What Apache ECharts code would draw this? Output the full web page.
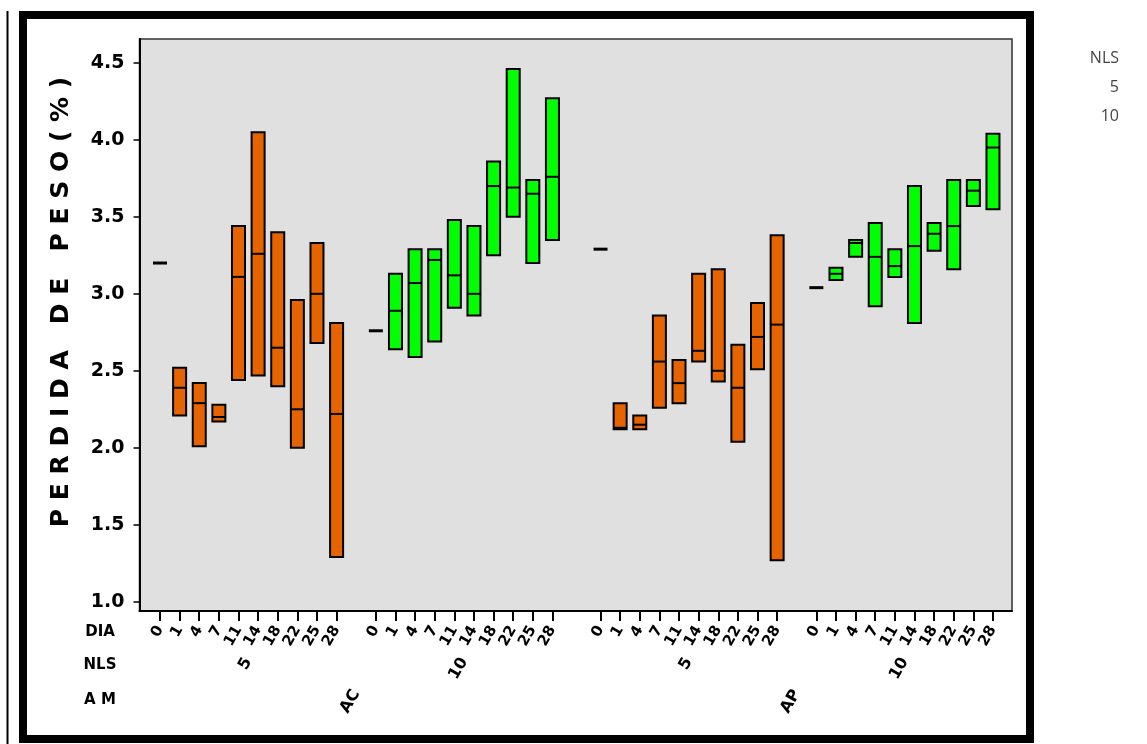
<!DOCTYPE html>
<html>
<head>
<meta charset="utf-8">
<script src="https://cdn.jsdelivr.net/npm/echarts@6/dist/echarts.min.js"></script>
<style>
html,body{margin:0;padding:0;background:#fff;}
#chart{width:1147px;height:744px;}
</style>
</head>
<body>
<div id="chart"></div>
<script>
// ---- data ----
const days = ['0','1','4','7','11','14','18','22','25','28'];
const nlsLevels = ['5','10'];
const amLevels = ['AC','AP'];
const yTicks = [1.0,1.5,2.0,2.5,3.0,3.5,4.0,4.5];
const yTitle = 'P E R D I D A   D E   P E S O ( % )';
const rowHeaders = ['DIA','NLS','A M'];

// AC, NLS 5
const acN5High = [3.20,2.52,2.42,2.28,3.44,4.05,3.40,2.96,3.33,2.81];
const acN5Mid  = [3.20,2.39,2.29,2.20,3.11,3.26,2.65,2.25,3.00,2.22];
const acN5Low  = [3.20,2.21,2.01,2.17,2.44,2.47,2.40,2.00,2.68,1.29];
// AC, NLS 10
const acN10High = [2.76,3.13,3.29,3.29,3.48,3.44,3.86,4.46,3.74,4.27];
const acN10Mid  = [2.76,2.89,3.07,3.22,3.12,3.00,3.70,3.69,3.65,3.76];
const acN10Low  = [2.76,2.64,2.59,2.69,2.91,2.86,3.25,3.50,3.20,3.35];
// AP, NLS 5
const apN5High = [3.29,2.29,2.21,2.86,2.57,3.13,3.16,2.67,2.94,3.38];
const apN5Mid  = [3.29,2.13,2.15,2.56,2.42,2.63,2.50,2.39,2.72,2.80];
const apN5Low  = [3.29,2.12,2.12,2.26,2.29,2.56,2.43,2.04,2.51,1.27];
// AP, NLS 10
const apN10High = [3.04,3.17,3.35,3.46,3.29,3.70,3.46,3.74,3.74,4.04];
const apN10Mid  = [3.04,3.13,3.33,3.24,3.18,3.31,3.39,3.44,3.67,3.95];
const apN10Low  = [3.04,3.09,3.24,2.92,3.11,2.81,3.28,3.16,3.57,3.55];

// ---- layout helpers ----
const AM_EXTRA_GAP = 0.45;
const groups = [
  {am:0, nls:0, hi:acN5High, mid:acN5Mid, lo:acN5Low},
  {am:0, nls:1, hi:acN10High, mid:acN10Mid, lo:acN10Low},
  {am:1, nls:0, hi:apN5High, mid:apN5Mid, lo:apN5Low},
  {am:1, nls:1, hi:apN10High, mid:apN10Mid, lo:apN10Low}
];
const nlsSpan = days.length + 1;
const amSpan = nlsLevels.length * nlsSpan + AM_EXTRA_GAP;
function pos(a, n, d){ return a*amSpan + n*nlsSpan + d; }

const dayPos = [], dayLabelMap = {};
const nlsPos = [], nlsLabelMap = {};
const amPos = [], amLabelMap = {};
const seriesData = [[], []];
groups.forEach(g => {
  days.forEach((lab, d) => {
    const p = pos(g.am, g.nls, d);
    dayPos.push(p); dayLabelMap[p.toFixed(3)] = lab;
    seriesData[g.nls].push([p, g.lo[d], g.mid[d], g.hi[d]]);
  });
  const c = (pos(g.am, g.nls, 0) + pos(g.am, g.nls, days.length-1))/2;
  nlsPos.push(c); nlsLabelMap[c.toFixed(3)] = nlsLevels[g.nls];
});
amLevels.forEach((lab, a) => {
  const c = (pos(a,0,0) + pos(a,nlsLevels.length-1,days.length-1))/2;
  amPos.push(c); amLabelMap[c.toFixed(3)] = lab;
});

const colors = ['#e66400', '#00ff00'];
const FONT = 'DejaVu Sans';

function makeRender(color){
  return function(params, api){
    const x = api.value(0), lo = api.value(1), mid = api.value(2), hi = api.value(3);
    const pHi = api.coord([x, hi]), pLo = api.coord([x, lo]), pMid = api.coord([x, mid]);
    const w = 13;
    if (hi === lo) {
      return {type:'line', shape:{x1:pMid[0]-7, y1:pMid[1], x2:pMid[0]+7, y2:pMid[1]},
              style:{stroke:'#000', lineWidth:3}};
    }
    return {type:'group', children:[
      {type:'rect', shape:{x:pHi[0]-w/2, y:pHi[1], width:w, height:pLo[1]-pHi[1]},
       style:{fill:color, stroke:'#000', lineWidth:2}},
      {type:'line', shape:{x1:pHi[0]-w/2, y1:pMid[1], x2:pHi[0]+w/2, y2:pMid[1]},
       style:{stroke:'#000', lineWidth:2}}
    ]};
  };
}

const XMIN = -1.045, XMAX = 43.42;
function fmt(map){ return v => map[Number(v).toFixed(3)] || ''; }
const labelStyle = {fontFamily:FONT, fontWeight:'bold', color:'#000'};

const chart = echarts.init(document.getElementById('chart'), null, {renderer:'canvas'});
chart.setOption({
  animation:false,
  backgroundColor:'#fff',
  grid:{left:139.5, top:39, right:135, bottom:133, show:true, backgroundColor:'#e0e0e0',
        borderColor:'#333', borderWidth:1.5},
  xAxis:[
    {type:'value', min:XMIN, max:XMAX, position:'bottom',
     axisLine:{show:true, onZero:false, lineStyle:{color:'#000', width:2}},
     axisTick:{show:true, customValues:dayPos, length:10, lineStyle:{color:'#000', width:2}},
     axisLabel:Object.assign({show:true, customValues:dayPos, formatter:fmt(dayLabelMap), rotate:60, margin:16, fontSize:15}, labelStyle),
     splitLine:{show:false}},
    {type:'value', min:XMIN, max:XMAX, position:'bottom', offset:40,
     axisLine:{show:false}, axisTick:{show:false}, splitLine:{show:false},
     axisLabel:Object.assign({show:true, customValues:nlsPos, formatter:fmt(nlsLabelMap), rotate:60, margin:8, fontSize:16}, labelStyle)},
    {type:'value', min:XMIN, max:XMAX, position:'bottom', offset:72,
     axisLine:{show:false}, axisTick:{show:false}, splitLine:{show:false},
     axisLabel:Object.assign({show:true, customValues:amPos, formatter:fmt(amLabelMap), rotate:60, margin:8, fontSize:16}, labelStyle)}
  ],
  yAxis:{type:'value', min:0.94, max:4.655,
    axisLine:{show:true, onZero:false, lineStyle:{color:'#000', width:2}},
    axisTick:{show:true, customValues:yTicks, length:6, lineStyle:{color:'#000', width:1.5}},
    axisLabel:Object.assign({show:true, customValues:yTicks, formatter:v=>Number(v).toFixed(1), margin:15, fontSize:19}, labelStyle),
    splitLine:{show:false}
  },
  series:nlsLevels.map((n, i) => ({
    name:n, type:'custom', xAxisIndex:0, renderItem:makeRender(colors[i]),
    data:seriesData[i], encode:{x:0, y:[1,2,3]}, clip:false
  })),
  graphic:[
    {type:'rect', shape:{x:23, y:15, width:1007, height:724}, style:{fill:'none', stroke:'#000', lineWidth:8}, silent:true},
    {type:'line', shape:{x1:7.5, y1:11, x2:7.5, y2:744}, style:{stroke:'#000', lineWidth:2}, silent:true},
    {type:'text', x:61, y:302, rotation:Math.PI/2,
     style:{text:yTitle, font:'bold 25px "DejaVu Sans"', fill:'#000', textAlign:'center', textVerticalAlign:'middle'}},
    {type:'text', x:100, y:632, style:{text:rowHeaders[0], font:'bold 15px "DejaVu Sans"', fill:'#000', textAlign:'center', textVerticalAlign:'middle'}},
    {type:'text', x:100, y:665, style:{text:rowHeaders[1], font:'bold 15px "DejaVu Sans"', fill:'#000', textAlign:'center', textVerticalAlign:'middle'}},
    {type:'text', x:100, y:700, style:{text:rowHeaders[2], font:'bold 15px "DejaVu Sans"', fill:'#000', textAlign:'center', textVerticalAlign:'middle'}},
    {type:'text', x:1119, y:58, style:{text:'NLS', font:'16px "Open Sans"', fill:'#444', textAlign:'right', textVerticalAlign:'middle'}},
    {type:'text', x:1119, y:87, style:{text:nlsLevels[0], font:'16px "Open Sans"', fill:'#444', textAlign:'right', textVerticalAlign:'middle'}},
    {type:'text', x:1119, y:116, style:{text:nlsLevels[1], font:'16px "Open Sans"', fill:'#444', textAlign:'right', textVerticalAlign:'middle'}}
  ]
});
</script>
</body>
</html>
